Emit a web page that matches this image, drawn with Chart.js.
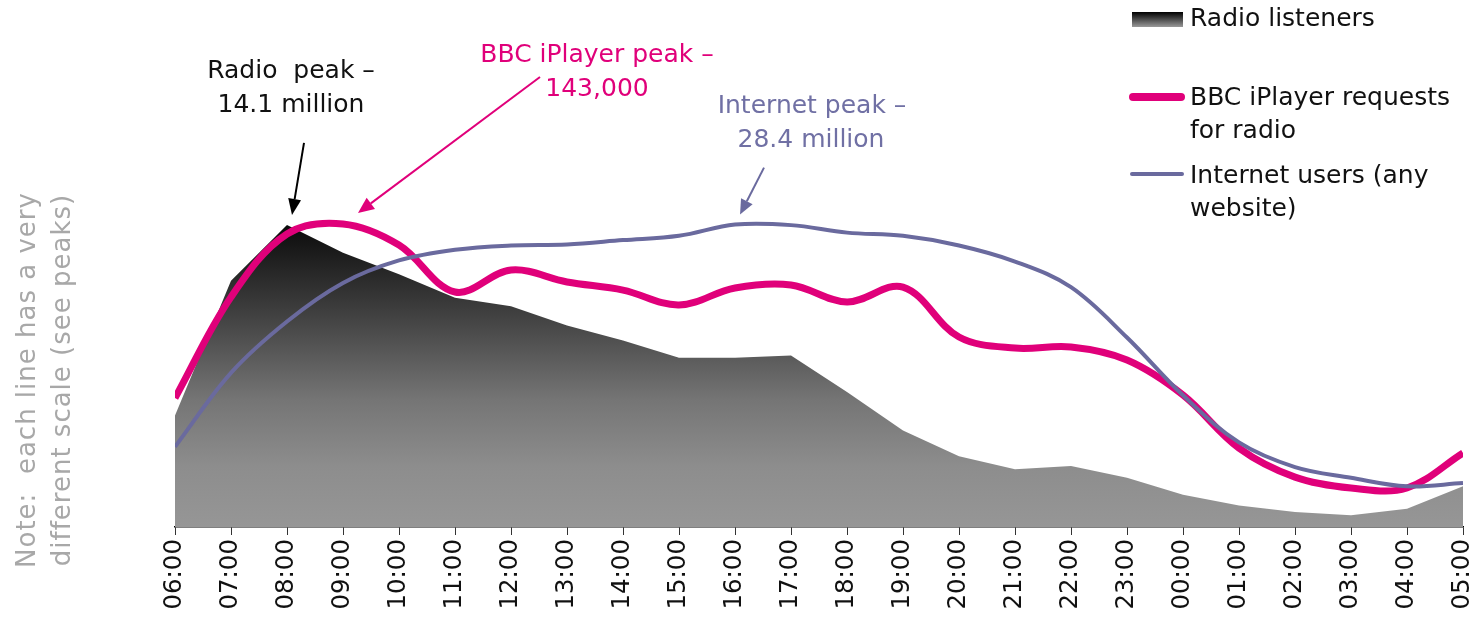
<!DOCTYPE html>
<html><head><meta charset="utf-8">
<script src="https://cdn.jsdelivr.net/npm/chart.js@4.4.1/dist/chart.umd.min.js"></script>
<style>html,body{margin:0;padding:0;background:#fff;}#wrap{width:1477px;height:618px;position:relative;}</style>
</head><body><div id="wrap"><canvas id="c" width="1477" height="618"></canvas></div>
<script>
// ---- data ----
const hours = ['06:00','07:00','08:00','09:00','10:00','11:00','12:00','13:00','14:00','15:00','16:00','17:00',
               '18:00','19:00','20:00','21:00','22:00','23:00','00:00','01:00','02:00','03:00','04:00','05:00'];
// Radio listeners (millions)
const radioListeners = [5.2, 11.5, 14.1, 12.8, 11.8, 10.7, 10.3, 9.4, 8.7, 7.9, 7.9, 8.0,
                        6.3, 4.5, 3.3, 2.7, 2.85, 2.3, 1.5, 1.0, 0.7, 0.55, 0.85, 1.9];
// BBC iPlayer requests for radio (thousands)
const iplayerRequests = [60.5, 107.8, 137.4, 142.1, 132.2, 110.2, 120.5, 114.9, 111.1, 104.1, 112.1, 113.5,
                         105.5, 112.5, 89.1, 83.9, 84.4, 78.3, 61.9, 37.0, 23.4, 18.3, 18.3, 34.7];
// Internet users, any website (millions)
const internetUsers = [7.5, 14.4, 19.2, 22.8, 24.9, 25.9, 26.3, 26.4, 26.8, 27.2, 28.25, 28.2,
                       27.5, 27.2, 26.3, 24.8, 22.4, 17.7, 12.3, 7.9, 5.6, 4.6, 3.8, 4.1];
const seriesNames = ['Radio listeners', 'BBC iPlayer requests for radio', 'Internet users (any website)'];
const peakNotes = [['Radio  peak \u2013', '14.1 million'], ['BBC iPlayer peak \u2013', '143,000'], ['Internet peak \u2013', '28.4 million']];
const noteText = ['Note:  each line has a very', 'different scale (see peaks)'];

const FONT = '"DejaVu Sans", sans-serif';
const PINK = '#E0007A';
const BLUE = '#6A6A9E';

function radioGradient(chart) {
  const area = chart.chartArea;
  if (!area) return '#888';
  const y = chart.scales.y1;
  const top = y.getPixelForValue(Math.max(...radioListeners));
  const g = chart.ctx.createLinearGradient(0, top, 0, area.bottom);
  g.addColorStop(0, '#0b0b0b');
  g.addColorStop(0.25, '#383838');
  g.addColorStop(0.58, '#757575');
  g.addColorStop(0.8, '#8d8d8d');
  g.addColorStop(1, '#969696');
  return g;
}

function arrow(c, x1, y1, x2, y2, color, w, hl, hw) {
  const a = Math.atan2(y2 - y1, x2 - x1);
  const bx = x2 - hl * Math.cos(a), by = y2 - hl * Math.sin(a);
  c.save();
  c.strokeStyle = color; c.lineWidth = w;
  c.beginPath(); c.moveTo(x1, y1); c.lineTo(bx, by); c.stroke();
  c.fillStyle = color;
  c.beginPath(); c.moveTo(x2, y2);
  c.lineTo(bx + hw / 2 * Math.sin(a), by - hw / 2 * Math.cos(a));
  c.lineTo(bx - hw / 2 * Math.sin(a), by + hw / 2 * Math.cos(a));
  c.closePath(); c.fill();
  c.restore();
}

const overlay = {
  id: 'overlay',
  afterDraw(chart) {
    const c = chart.ctx;
    const xs = chart.scales.x;
    c.save();
    c.font = '25px ' + FONT;
    c.textBaseline = 'alphabetic';
    c.textAlign = 'center';
    // Radio annotation
    c.fillStyle = '#111';
    c.fillText(peakNotes[0][0], 291, 78);
    c.fillText(peakNotes[0][1], 291, 112);
    const ri = radioListeners.indexOf(Math.max(...radioListeners));
    const rx = xs.getPixelForValue(ri), ry = chart.scales.y1.getPixelForValue(radioListeners[ri]);
    arrow(c, rx + 17, ry - 82, rx + 5, ry - 10, '#000', 2, 16, 13);
    // iPlayer annotation
    c.fillStyle = PINK;
    c.fillText(peakNotes[1][0], 597, 62);
    c.fillText(peakNotes[1][1], 597, 96);
    const pi = iplayerRequests.indexOf(Math.max(...iplayerRequests));
    const px = xs.getPixelForValue(pi), py = chart.scales.y2.getPixelForValue(iplayerRequests[pi]);
    arrow(c, px + 197, py - 147, px + 15, py - 11, PINK, 2, 16, 14);
    // Internet annotation
    c.fillStyle = '#7070A4';
    c.fillText(peakNotes[2][0], 812, 113);
    c.fillText(peakNotes[2][1], 811, 147);
    const ii = internetUsers.indexOf(Math.max(...internetUsers));
    const ix = xs.getPixelForValue(ii), iy = chart.scales.y3.getPixelForValue(internetUsers[ii]);
    arrow(c, ix + 29, iy - 57, ix + 5, iy - 10, BLUE, 2, 15, 13);

    // Legend
    c.textAlign = 'left';
    c.textBaseline = 'middle';
    const lg = c.createLinearGradient(0, 12, 0, 27);
    lg.addColorStop(0, '#000'); lg.addColorStop(1, '#999');
    c.fillStyle = lg;
    c.fillRect(1132, 12, 51, 15);
    c.fillStyle = '#111';
    c.fillText('Radio listeners', 1190, 19);
    c.lineCap = 'round';
    c.strokeStyle = PINK; c.lineWidth = 8;
    c.beginPath(); c.moveTo(1133, 97); c.lineTo(1181, 97); c.stroke();
    c.fillText('BBC iPlayer requests', 1190, 98);
    c.fillText('for radio', 1190, 131);
    c.strokeStyle = BLUE; c.lineWidth = 4;
    c.beginPath(); c.moveTo(1132, 174); c.lineTo(1182, 174); c.stroke();
    c.fillText('Internet users (any', 1190, 176);
    c.fillText('website)', 1190, 209);

    // Rotated note
    c.fillStyle = '#A8A8A8';
    c.textAlign = 'center';
    c.font = '26px ' + FONT;
    try { c.letterSpacing = '1px'; } catch (e) {}
    c.translate(0, 380);
    c.rotate(-Math.PI / 2);
    c.fillText(noteText[0], 0, 28);
    c.fillText(noteText[1], 0, 63);
    c.restore();
  }
};

new Chart(document.getElementById('c'), {
  type: 'line',
  data: {
    labels: hours,
    datasets: [
      {
        label: seriesNames[0], data: radioListeners, yAxisID: 'y1', order: 3,
        fill: 'origin', tension: 0, borderWidth: 0, borderColor: 'rgba(0,0,0,0)',
        backgroundColor: (ctx) => radioGradient(ctx.chart), pointRadius: 0
      },
      {
        label: seriesNames[1], data: iplayerRequests, yAxisID: 'y2', order: 2,
        fill: false, tension: 0.36, borderWidth: 7, borderColor: PINK, pointRadius: 0,
        clip: {left: 0, right: 0, top: 10, bottom: 10}
      },
      {
        label: seriesNames[2], data: internetUsers, yAxisID: 'y3', order: 1,
        fill: false, tension: 0.36, borderWidth: 4, borderColor: BLUE, pointRadius: 0,
        clip: {left: 0, right: 0, top: 10, bottom: 10}
      }
    ]
  },
  options: {
    responsive: false,
    animation: false,
    devicePixelRatio: 1,
    layout: { padding: { left: 175, right: 14, top: 205, bottom: 0 } },
    plugins: { legend: { display: false }, tooltip: { enabled: false }, title: { display: false } },
    scales: {
      x: {
        type: 'category',
        offset: false,
        afterFit: (s) => { s.height = 91; s.paddingLeft = 0; s.paddingRight = 0; },
        grid: { display: true, drawOnChartArea: false, drawTicks: true, tickLength: 8, color: '#333', lineWidth: 1 },
        border: { display: true, color: '#000', width: 1.5 },
        ticks: { autoSkip: false, minRotation: 90, maxRotation: 90, padding: 4, color: '#111',
                 font: { family: FONT, size: 24.5 } }
      },
      y1: { display: false, min: 0, max: 15.03 },
      y2: { display: false, min: 0, max: 151 },
      y3: { display: false, min: 0, max: 30.08 }
    }
  },
  plugins: [overlay]
});
</script>
</body></html>
